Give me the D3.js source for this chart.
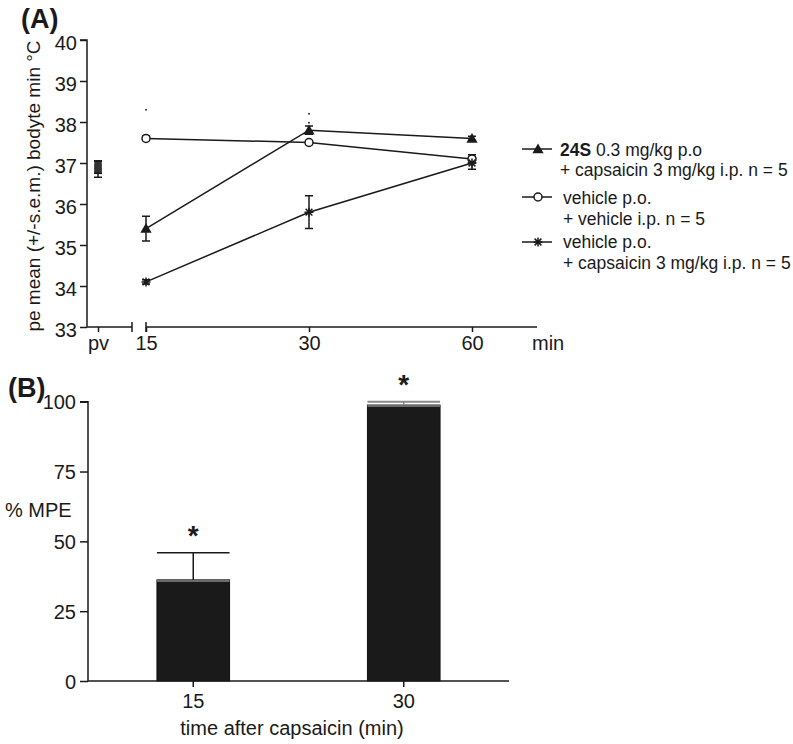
<!DOCTYPE html>
<html>
<head>
<meta charset="utf-8">
<script src="https://cdn.jsdelivr.net/npm/d3@7"></script>
<style>
  html, body { margin: 0; padding: 0; background: #fff; }
  svg { display: block; }
  text { font-family: "Liberation Sans", Arial, Helvetica, sans-serif; fill: #1a1a1a; }
</style>
</head>
<body>
<svg id="chart" width="793" height="744"></svg>
<script>
// ---------- DATA: panel A ----------
const timesA = ["15", "30", "60"];
const preLabel = ["pv"];
const yTicksA = [33, 34, 35, 36, 37, 38, 39, 40];

const s24S_pv = 36.9,  s24S_pvErr = 0.15;
const s24S = [35.4, 37.8, 37.6];
const s24SErr = [0.3, 0.1, 0.05];

const vehVeh_pv = 36.9, vehVeh_pvErr = 0.15;
const vehVeh = [37.6, 37.5, 37.1];
const vehVehErr = [0.05, 0.05, 0.1];

const vehCap_pv = 36.85, vehCap_pvErr = 0.2;
const vehCap = [34.1, 35.8, 37.0];
const vehCapErr = [0.05, 0.4, 0.15];

const sigDotTimes = ["15", "30", "30"];
const sigDotValues = [38.3, 38.2, 37.98];

const legendLines1 = ["24S", " 0.3 mg/kg p.o", "vehicle p.o.", "vehicle p.o."];
const legendLines2 = ["+ capsaicin 3 mg/kg i.p. n = 5", "+ vehicle i.p. n = 5", "+ capsaicin 3 mg/kg i.p. n = 5"];

// ---------- DATA: panel B ----------
const timesB = ["15", "30"];
const mpe = [36.2, 98.8];
const mpeErr = [9.7, 1.2];
const yTicksB = [0, 25, 50, 75, 100];

// ---------- DRAW ----------
const svg = d3.select("#chart");
const ink = "#1a1a1a";

// ===== Panel A =====
const yA = d3.scaleLinear().domain([33, 40]).range([327, 40]);
const xA = d3.scalePoint().domain(timesA).range([146, 472]);
const xPv = d3.scalePoint().domain(preLabel).range([98, 98]);
const gA = svg.append("g");

// y axis
const yAxA = gA.append("g").attr("transform", "translate(87,0)")
  .call(d3.axisLeft(yA).tickValues(yTicksA).tickSize(7).tickPadding(3).tickFormat(d3.format("d")));
yAxA.select(".domain").attr("stroke", ink).attr("stroke-width", 1.5).attr("d", "M-7,40H0V327");
yAxA.selectAll(".tick line").attr("stroke", ink).attr("stroke-width", 1.5);
yAxA.selectAll(".tick text").attr("font-size", 20).attr("dy", "0.45em").attr("fill", ink);

// x axis segment 1 (pv)
const xAx1 = gA.append("g").attr("transform", "translate(0,327)")
  .call(d3.axisBottom(xPv).tickSize(5).tickPadding(4));
xAx1.select(".domain").remove();
xAx1.selectAll(".tick line").attr("stroke", ink).attr("stroke-width", 1.5);
xAx1.selectAll(".tick text").attr("font-size", 20).attr("fill", ink);
gA.append("line").attr("x1", 87).attr("x2", 132).attr("y1", 327).attr("y2", 327)
  .attr("stroke", ink).attr("stroke-width", 1.5);
gA.append("line").attr("x1", 132).attr("x2", 132).attr("y1", 322).attr("y2", 332)
  .attr("stroke", ink).attr("stroke-width", 1.5);

// x axis segment 2
const xAx2 = gA.append("g").attr("transform", "translate(0,327)")
  .call(d3.axisBottom(xA).tickSize(5).tickPadding(4));
xAx2.select(".domain").remove();
xAx2.selectAll(".tick line").attr("stroke", ink).attr("stroke-width", 1.5);
xAx2.selectAll(".tick text").attr("font-size", 20).attr("fill", ink);
gA.append("line").attr("x1", xA("15")).attr("x2", 537).attr("y1", 327).attr("y2", 327)
  .attr("stroke", ink).attr("stroke-width", 1.5);
gA.append("line").attr("x1", xA("15")).attr("x2", xA("15")).attr("y1", 322).attr("y2", 332)
  .attr("stroke", ink).attr("stroke-width", 1.5);
gA.append("text").attr("x", 532).attr("y", 350).attr("font-size", 20).text("min");

// y label
gA.append("text").attr("transform", "translate(40,186) rotate(-90)")
  .attr("text-anchor", "middle").attr("font-size", 19)
  .text("pe mean (+/-s.e.m.) bodyte min °C");

// panel letter
gA.append("text").attr("x", 21).attr("y", 28).attr("font-size", 27).attr("font-weight", "bold").text("(A)");

// markers
function drawMarker(g, type, x, y) {
  if (type === "tri") {
    g.append("path").attr("d", d3.symbol().type(d3.symbolTriangle).size(55)())
      .attr("transform", `translate(${x},${y + 1})`).attr("fill", ink);
  } else if (type === "circ") {
    g.append("circle").attr("cx", x).attr("cy", y).attr("r", 4)
      .attr("fill", "#fff").attr("stroke", ink).attr("stroke-width", 1.5);
  } else {
    const r = 4.5;
    const p = d3.path();
    p.moveTo(x - r, y); p.lineTo(x + r, y);
    p.moveTo(x, y - r); p.lineTo(x, y + r);
    p.moveTo(x - r * 0.75, y - r * 0.75); p.lineTo(x + r * 0.75, y + r * 0.75);
    p.moveTo(x - r * 0.75, y + r * 0.75); p.lineTo(x + r * 0.75, y - r * 0.75);
    g.append("path").attr("d", p.toString()).attr("stroke", ink).attr("stroke-width", 1.5).attr("fill", "none");
  }
}
function drawErr(g, x, v, e) {
  const y1 = yA(v - e), y2 = yA(v + e), cw = 4;
  const p = d3.path();
  p.moveTo(x, y1); p.lineTo(x, y2);
  p.moveTo(x - cw, y1); p.lineTo(x + cw, y1);
  p.moveTo(x - cw, y2); p.lineTo(x + cw, y2);
  g.append("path").attr("d", p.toString()).attr("stroke", ink).attr("stroke-width", 1.5).attr("fill", "none");
}

const seriesA = [
  { vals: vehVeh, errs: vehVehErr, pv: vehVeh_pv, pvErr: vehVeh_pvErr, type: "circ" },
  { vals: vehCap, errs: vehCapErr, pv: vehCap_pv, pvErr: vehCap_pvErr, type: "star" },
  { vals: s24S, errs: s24SErr, pv: s24S_pv, pvErr: s24S_pvErr, type: "tri" }
];
const line = d3.line().x((d, i) => xA(timesA[i])).y(d => yA(d));
seriesA.forEach(s => {
  gA.append("path").datum(s.vals).attr("d", line)
    .attr("fill", "none").attr("stroke", ink).attr("stroke-width", 1.5);
});
seriesA.forEach(s => {
  drawErr(gA, xPv("pv"), s.pv, s.pvErr);
  gA.append("rect").attr("x", xPv("pv") - 3.5).attr("y", yA(s.pv) - 5).attr("width", 7).attr("height", 10)
    .attr("fill", "#333");
  s.vals.forEach((v, i) => {
    drawErr(gA, xA(timesA[i]), v, s.errs[i]);
  });
});
seriesA.forEach(s => {
  s.vals.forEach((v, i) => drawMarker(gA, s.type, xA(timesA[i]), yA(v)));
});

// significance dots
sigDotValues.forEach((v, i) => {
  gA.append("circle").attr("cx", xA(sigDotTimes[i])).attr("cy", yA(v)).attr("r", 1).attr("fill", "#333");
});

// legend
const legY = [149, 197, 242];
const legTypes = ["tri", "circ", "star"];
const legText1Y = [156, 204, 248];
const legText2Y = [176, 225, 269];
legTypes.forEach((t, i) => {
  gA.append("line").attr("x1", 522).attr("x2", 552).attr("y1", legY[i]).attr("y2", legY[i])
    .attr("stroke", ink).attr("stroke-width", 1.5);
  drawMarker(gA, t, 538, legY[i]);
});
const t0 = gA.append("text").attr("x", 560).attr("y", legText1Y[0]).attr("font-size", 17.5);
t0.append("tspan").attr("font-weight", "bold").text(legendLines1[0]);
t0.append("tspan").text(legendLines1[1]);
gA.append("text").attr("x", 560).attr("y", legText2Y[0]).attr("font-size", 17.5).text(legendLines2[0]);
gA.append("text").attr("x", 563).attr("y", legText1Y[1]).attr("font-size", 17.5).text(legendLines1[2]);
gA.append("text").attr("x", 563).attr("y", legText2Y[1]).attr("font-size", 17.5).text(legendLines2[1]);
gA.append("text").attr("x", 563).attr("y", legText1Y[2]).attr("font-size", 17.5).text(legendLines1[3]);
gA.append("text").attr("x", 563).attr("y", legText2Y[2]).attr("font-size", 17.5).text(legendLines2[2]);

// ===== Panel B =====
const gB = svg.append("g");
const yB = d3.scaleLinear().domain([0, 100]).range([681, 401.7]);
const xB = d3.scaleBand().domain(timesB).range([88, 509]).paddingInner(0.655).paddingOuter(0.3275);

const yAxB = gB.append("g").attr("transform", "translate(88,0)")
  .call(d3.axisLeft(yB).tickValues(yTicksB).tickSize(8).tickPadding(4));
yAxB.select(".domain").attr("stroke", ink).attr("stroke-width", 1.5).attr("d", `M-8,${yB(100)}H0V${yB(0)}`);
yAxB.selectAll(".tick line").attr("stroke", ink).attr("stroke-width", 1.5);
yAxB.selectAll(".tick text").attr("font-size", 20).attr("dy", "0.35em").attr("fill", ink);

// bars
timesB.forEach((t, i) => {
  const x = xB(t), w = xB.bandwidth();
  gB.append("rect").attr("x", x).attr("y", yB(mpe[i])).attr("width", w).attr("height", yB(0) - yB(mpe[i]))
    .attr("fill", "#1a1a1a").attr("stroke", "#111").attr("stroke-width", 1);
  gB.append("line").attr("x1", x).attr("x2", x + w).attr("y1", yB(mpe[i]) + 1).attr("y2", yB(mpe[i]) + 1)
    .attr("stroke", "#6b6b6b").attr("stroke-width", 2);
  const cx = x + w / 2;
  const errColor = i === 0 ? ink : "#8a8a8a";
  gB.append("line").attr("x1", cx).attr("x2", cx).attr("y1", yB(mpe[i])).attr("y2", yB(mpe[i] + mpeErr[i]))
    .attr("stroke", errColor).attr("stroke-width", 1.5);
  gB.append("line").attr("x1", x).attr("x2", x + w).attr("y1", yB(mpe[i] + mpeErr[i])).attr("y2", yB(mpe[i] + mpeErr[i]))
    .attr("stroke", errColor).attr("stroke-width", i === 0 ? 1.5 : 2);
  gB.append("text").attr("x", cx).attr("y", yB(mpe[i] + mpeErr[i]) - 8).attr("text-anchor", "middle")
    .attr("font-size", 28).attr("font-weight", "bold").text("*");
});

const xAxB = gB.append("g").attr("transform", `translate(0,${yB(0)})`)
  .call(d3.axisBottom(xB).tickSize(6).tickPadding(7));
xAxB.select(".domain").attr("stroke", ink).attr("stroke-width", 1.5).attr("d", "M88,0H509");
xAxB.selectAll(".tick line").attr("stroke", ink).attr("stroke-width", 1.5);
xAxB.selectAll(".tick text").attr("font-size", 20).attr("fill", ink);

gB.append("text").attr("x", 292).attr("y", 735).attr("text-anchor", "middle").attr("font-size", 20)
  .text("time after capsaicin (min)");
gB.append("text").attr("x", 5).attr("y", 517).attr("font-size", 20).text("% MPE");
gB.append("text").attr("x", 8).attr("y", 397).attr("font-size", 27).attr("font-weight", "bold").text("(B)");
</script>
</body>
</html>
